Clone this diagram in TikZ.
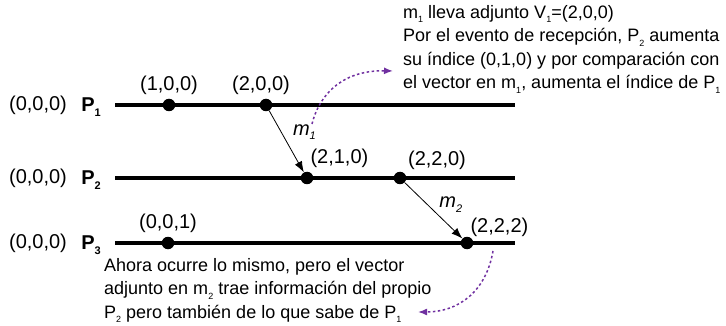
\documentclass[tikz,border=0pt]{standalone}
\usepackage{fontspec}
\setmainfont{Liberation Sans}
\usetikzlibrary{arrows.meta,positioning}
\definecolor{notecol}{RGB}{112,48,160}
\newcommand{\sbs}[2][9]{\raisebox{-0.45ex}{\fontsize{#1}{#1}\selectfont #2}}

\begin{document}
\begin{tikzpicture}[x=1pt, y=-1pt, font=\fontsize{20}{24}\selectfont,
  ev/.style = {circle, fill=black, inner sep=0pt, minimum size=12.5pt},
  proc/.style = {line width=3.2pt},
  msg/.style = {-{Latex[length=11pt,width=8pt]}, line width=0.8pt},
  hint/.style = {-{Latex[length=9pt,width=7pt]}, notecol, line width=1.5pt, dash pattern=on 2.5pt off 2.5pt},
  txt/.style = {font=\fontsize{18}{23.5}\selectfont, align=left, inner sep=0pt}]
            \useasboundingbox (0,0) rectangle (726,326);

            % process lines
            \coordinate (p1s) at (115,105); \coordinate (p1e) at (515,105);
            \coordinate (p2s) at (115,178); \coordinate (p2e) at (515,178);
            \coordinate (p3s) at (115,243); \coordinate (p3e) at (515,243);
            \draw[proc] (p1s) -- (p1e);
            \draw[proc] (p2s) -- (p2e);
            \draw[proc] (p3s) -- (p3e);

            \node (v1) at (38,105) {(0,0,0)};
            \node (v2) at (38,178) {(0,0,0)};
            \node (v3) at (38,243) {(0,0,0)};
            \node (n1) at (91,107) {\textbf{P}\sbs[11]{\textbf{1}}};
            \node (n2) at (91,180) {\textbf{P}\sbs[11]{\textbf{2}}};
            \node (n3) at (91,245) {\textbf{P}\sbs[11]{\textbf{3}}};

            % events
            \node[ev] (e11) at (169,105) {};
            \node[ev] (e12) at (266,105) {};
            \node[ev] (e21) at (307,178) {};
            \node[ev] (e22) at (400,178) {};
            \node[ev] (e31) at (168,243) {};
            \node[ev] (e32) at (467,243) {};

            \node (l11) [above=0pt of e11] {(1,0,0)};
            \node (l12) [above=0pt of e12, xshift=-5pt] {(2,0,0)};
            \node[anchor=south west] (l21) at (e21.north) {(2,1,0)};
            \node[anchor=south west] (l22) at (e22.north east) {(2,2,0)};
            \node (l31) [above=0pt of e31] {(0,0,1)};
            \node[anchor=south west, yshift=-4pt] (l32) at (e32.north) {(2,2,2)};

            % messages
            \draw[msg] (e12) -- node[pos=0.35, right=8pt] (mlab1) {\textit{m}\sbs[11]{\textit{1}}} (e21);
            \draw[msg] (e22) -- node[pos=0.4, right=8pt] (mlab2) {\textit{m}\sbs[11]{\textit{2}}} (e32);

            % notes
            \node[txt, anchor=north west] (t1) at (403,5) {m\sbs{1} lleva adjunto V\sbs{1}=(2,0,0)\\
              Por el evento de recepción, P\sbs{2} aumenta\\
              su índice (0,1,0) y por comparación con\\
              el vector en m\sbs{1}, aumenta el índice de P\sbs{1}};
            \node[txt, anchor=north west] (t2) at (104,258) {Ahora ocurre lo mismo, pero el vector\\
              adjunto en m\sbs{2} trae información del propio\\
              P\sbs{2} pero también de lo que sabe de P\sbs{1}};

            \coordinate (h1s) at (312,124);
            \coordinate (h1e) at (393,71);
            \coordinate (h2s) at (493,251);
            \coordinate (h2e) at (418,312);
            \draw[hint] (h1s) .. controls (320,92) and (345,70) .. (h1e);
            \draw[hint] (h2s) .. controls (486,292) and (458,312) .. (h2e);
        \end{tikzpicture}
\end{document}
